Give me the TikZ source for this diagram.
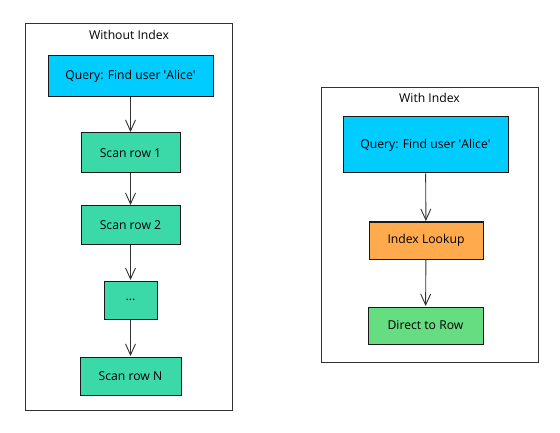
\documentclass[tikz,border=0pt]{standalone}
\usepackage{fontspec}
\setmainfont{Open Sans}
\usetikzlibrary{arrows.meta}
\definecolor{qblue}{RGB}{0,204,255}
\definecolor{scan}{RGB}{60,217,168}
\definecolor{orng}{RGB}{255,170,76}
\definecolor{dgreen}{RGB}{102,221,128}
\definecolor{edge}{RGB}{50,50,50}
\begin{document}
\begin{tikzpicture}[x=1pt,y=-1pt,
  cluster/.style={draw=edge,line width=0.9pt},
  box/.style={draw=black!90,line width=1pt,font=\fontsize{12.2}{14}\selectfont},
  ttl/.style={font=\fontsize{12.2}{14}\selectfont},
  flow/.style={draw=edge,line width=0.9pt,shorten >=0.5pt,-{Straight Barb[length=11pt,width=10pt,line width=0.9pt]}}]
\useasboundingbox (0,0) rectangle (560,433);
% left cluster
\draw[cluster] (25,23) rectangle (232,410);
\node[ttl] (t1) at (129,35) {Without Index};
\node[box,fill=qblue,minimum width=165pt,minimum height=41pt] (q1) at (130.5,76.5) {Query: Find user \textquotesingle Alice\textquotesingle};
\node[box,fill=scan,minimum width=99pt,minimum height=40pt] (s1) at (130.5,153) {Scan row 1};
\node[box,fill=scan,minimum width=99pt,minimum height=38pt] (s2) at (130.5,225) {Scan row 2};
\node[box,fill=scan,minimum width=53pt,minimum height=38pt] (s3) at (130.5,300) {...};
\node[box,fill=scan,minimum width=101pt,minimum height=38pt] (sn) at (130.5,376) {Scan row N};
\draw[flow] (q1) -- (s1);
\draw[flow] (s1) -- (s2);
\draw[flow] (s2) -- (s3);
\draw[flow] (s3) -- (sn);
% right cluster
\draw[cluster] (321,87) rectangle (538,362);
\node[ttl] (t2) at (429.5,98) {With Index};
\node[box,fill=qblue,minimum width=165pt,minimum height=56pt] (q2) at (425.5,145) {Query: Find user \textquotesingle Alice\textquotesingle};
\node[box,fill=orng,minimum width=114pt,minimum height=37pt] (il) at (426,240.5) {Index Lookup};
\node[box,fill=dgreen,minimum width=115pt,minimum height=37pt] (dr) at (425.5,325.5) {Direct to Row};
\draw[flow] (q2) -- (il);
\draw[flow] (il) -- (dr);
\end{tikzpicture}
\end{document}
